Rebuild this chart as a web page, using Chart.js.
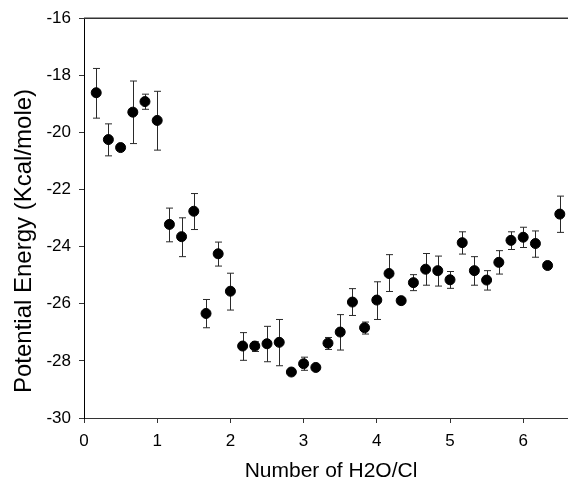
<!DOCTYPE html>
<html>
<head>
<meta charset="utf-8">
<script src="https://cdn.jsdelivr.net/npm/chart.js@4.4.1/dist/chart.umd.min.js"></script>
<style>
  html, body { margin: 0; padding: 0; background: #fff; }
  #chart { display: block; }
</style>
</head>
<body>
<canvas id="chart" width="568" height="481"></canvas>
<script>
// number of H2O per Cl
const waterPerCl = [0.167, 0.333, 0.5, 0.667, 0.833, 1.0, 1.167, 1.333, 1.5, 1.667,
  1.833, 2.0, 2.167, 2.333, 2.5, 2.667, 2.833, 3.0, 3.167, 3.333,
  3.5, 3.667, 3.833, 4.0, 4.167, 4.333, 4.5, 4.667, 4.833, 5.0,
  5.167, 5.333, 5.5, 5.667, 5.833, 6.0, 6.167, 6.333, 6.5, 6.667];

// potential energy (Kcal/mole)
const energy = [-18.61, -20.25, -20.53, -19.29, -18.92, -19.58, -23.22, -23.65, -22.76, -26.34,
  -24.25, -25.56, -27.48, -27.48, -27.40, -27.35, -28.39, -28.10, -28.23, -27.38,
  -26.99, -25.94, -26.84, -25.87, -24.94, -25.89, -25.26, -24.79, -24.84, -25.16,
  -23.86, -24.84, -25.17, -24.55, -23.78, -23.67, -23.89, -24.66, -22.86, -22.55];

// error bar ends (null = no bar)
const errTop = [-17.76, -19.70, null, -18.20, -18.66, -18.56, -22.65, -22.99, -22.14, -25.85,
  -23.84, -24.93, -27.01, -27.33, -26.79, -26.55, null, -27.87, null, -27.18,
  -26.38, -25.47, -26.64, -25.23, -24.28, null, -24.98, -24.24, -24.33, -24.87,
  -23.48, -24.35, -24.84, -24.14, -23.48, -23.32, -23.45, null, -22.23, -22.00];
const errBottom = [-19.50, -20.82, null, -20.39, -19.19, -20.62, -23.83, -24.35, -23.40, -26.84,
  -24.68, -26.22, -27.98, -27.67, -28.03, -28.17, null, -28.33, null, -27.60,
  -27.62, -26.41, -27.06, -26.55, -25.57, null, -25.54, -25.35, -25.38, -25.46,
  -24.26, -25.35, -25.52, -24.96, -24.10, -24.03, -24.37, null, -23.50, -23.10];

const xTitle = 'Number of H2O/Cl';
const yTitle = 'Potential Energy (Kcal/mole)';

const fontFamily = "'Liberation Sans', Arial, Helvetica, sans-serif";
Chart.defaults.font.family = fontFamily;
Chart.defaults.color = '#000';

const points = waterPerCl.map((x, i) => ({ x: x, y: energy[i] }));

// error bars, frame lines and axis titles
const extras = {
  id: 'extras',
  beforeDatasetsDraw(chart) {
    const ctx = chart.ctx;
    const xs = chart.scales.x;
    const ys = chart.scales.y;
    ctx.save();
    ctx.strokeStyle = '#2a2a2a';
    ctx.lineWidth = 1;
    for (let i = 0; i < waterPerCl.length; i++) {
      if (errTop[i] === null) continue;
      const px = Math.round(xs.getPixelForValue(waterPerCl[i])) + 0.5;
      const t = ys.getPixelForValue(errTop[i]);
      const b = ys.getPixelForValue(errBottom[i]);
      ctx.beginPath();
      ctx.moveTo(px, t);
      ctx.lineTo(px, b);
      ctx.moveTo(px - 3.5, t);
      ctx.lineTo(px + 3.5, t);
      ctx.moveTo(px - 3.5, b);
      ctx.lineTo(px + 3.5, b);
      ctx.stroke();
    }
    ctx.restore();
  },
  afterDraw(chart) {
    const ctx = chart.ctx;
    const area = chart.chartArea;
    ctx.save();
    ctx.strokeStyle = '#333';
    ctx.lineWidth = 1.5;
    ctx.beginPath();
    ctx.moveTo(area.left, area.top);
    ctx.lineTo(chart.width, area.top);
    ctx.stroke();
    // run the bottom axis line out to the canvas edge
    ctx.lineWidth = 1;
    ctx.beginPath();
    ctx.moveTo(area.right, Math.round(area.bottom) + 0.5);
    ctx.lineTo(chart.width, Math.round(area.bottom) + 0.5);
    ctx.stroke();

    ctx.fillStyle = '#000';
    ctx.textAlign = 'center';
    ctx.textBaseline = 'middle';
    ctx.font = '21px ' + fontFamily;
    ctx.fillText(xTitle, 331, 471);

    ctx.translate(24, 241);
    ctx.rotate(-Math.PI / 2);
    ctx.font = '24px ' + fontFamily;
    ctx.fillText(yTitle, 0, 0);
    ctx.restore();
  }
};

new Chart(document.getElementById('chart'), {
  type: 'scatter',
  data: {
    datasets: [{
      data: points,
      backgroundColor: '#000',
      borderColor: '#000',
      pointRadius: 5,
      pointHoverRadius: 5,
      clip: false
    }]
  },
  options: {
    responsive: false,
    animation: false,
    events: [],
    layout: { padding: { top: 18, right: 0, left: 0, bottom: 0 } },
    plugins: {
      legend: { display: false },
      tooltip: { enabled: false }
    },
    scales: {
      x: {
        type: 'linear',
        min: 0,
        max: 6.53,
        afterFit: (s) => {
          s.height = 63;
          s.paddingLeft = 0;
          s.paddingRight = 0;
        },
        ticks: { stepSize: 1, includeBounds: false, padding: 8, font: { size: 17 }, color: '#000' },
        grid: { drawOnChartArea: false, drawTicks: true, tickLength: 5, color: '#333' },
        border: { color: '#333', width: 1 }
      },
      y: {
        min: -30,
        max: -16,
        afterFit: (s) => { s.width = 84; },
        ticks: { stepSize: 2, padding: 8, font: { size: 17 }, color: '#000' },
        grid: { drawOnChartArea: false, drawTicks: true, tickLength: 5, color: '#333' },
        border: { color: '#000', width: 1 }
      }
    }
  },
  plugins: [extras]
});
</script>
</body>
</html>
